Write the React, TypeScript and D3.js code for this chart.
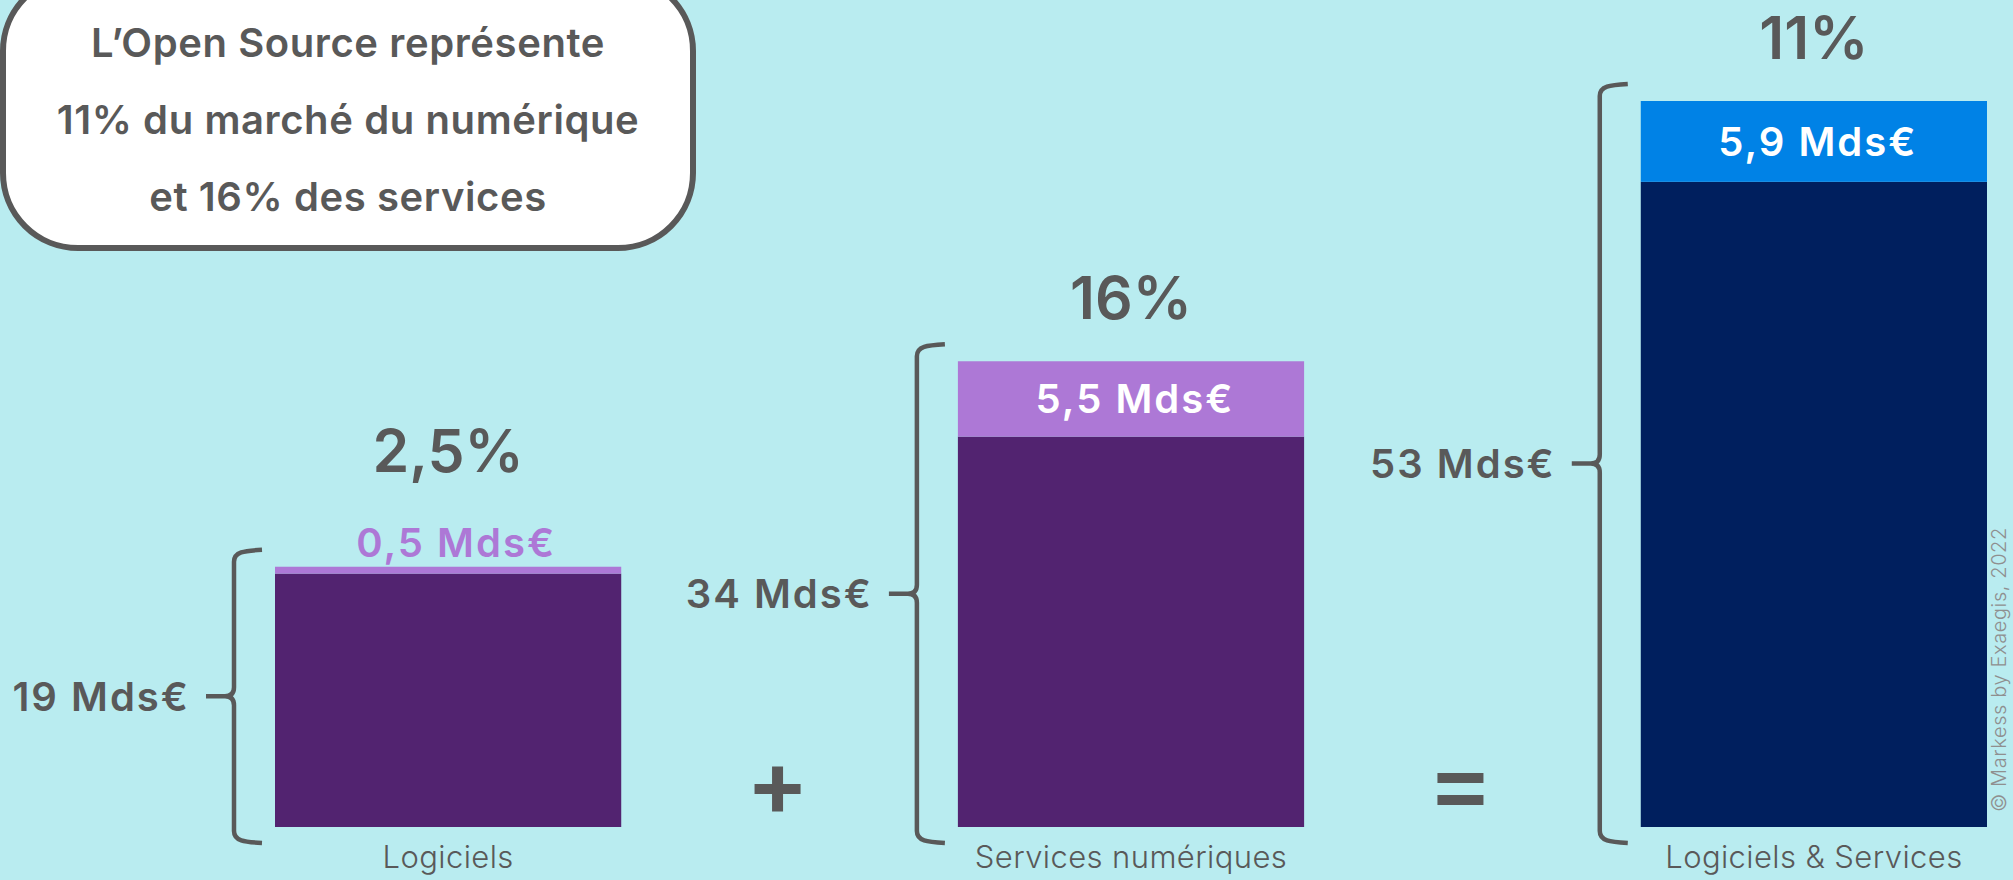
import React from "react";
import * as d3 from "d3";

const categories = ["Logiciels", "Services numériques", "Logiciels & Services"];
const totals = [19, 34, 53];
const openSource = [0.5, 5.5, 5.9];
const shareLabels = ["2,5%", "16%", "11%"];
const totalLabels = ["19 Mds€", "34 Mds€", "53 Mds€"];
const osLabels = ["0,5 Mds€", "5,5 Mds€", "5,9 Mds€"];
const baseColors = ["#522370", "#522370", "#001f5e"];
const osColors = ["#ad78d6", "#ad78d6", "#0082e6"];
const titleLines = ["L’Open Source représente", "11% du marché du numérique", "et 16% des services"];
const operators = ["+", "="];
const credit = "© Markess by Exaegis, 2022";

const W = 2013;
const H = 880;
const GRAY = "#595959";
const FONT = "Inter, 'Open Sans', sans-serif";

function bracePath(x0: number, xt: number, xc: number, t: number, b: number) {
  const m = (t + b) / 2;
  const p = d3.path();
  p.moveTo(xt, t);
  p.bezierCurveTo(x0 + 10, t + 1, x0, t + 2, x0, t + 12);
  p.lineTo(x0, m - 9);
  p.quadraticCurveTo(x0, m, x0 - 9, m);
  p.lineTo(xc, m);
  p.moveTo(x0 - 9, m);
  p.quadraticCurveTo(x0, m, x0, m + 9);
  p.lineTo(x0, b - 12);
  p.bezierCurveTo(x0, b - 2, x0 + 10, b - 1, xt, b);
  return p.toString();
}

export default function App() {
  const x = d3.scaleBand<string>().domain(categories).range([275, 1987]).paddingInner(0.493).paddingOuter(0);
  const y = d3.scaleLinear().domain([0, 53]).range([827, 101]);
  const bw = x.bandwidth();

  return (
    <svg width={W} height={H} style={{ position: "absolute", left: 0, top: 0, display: "block" }} fontFamily={FONT}>
      <rect x={0} y={0} width={W} height={H} fill="#b9ecf0" />

      {/* title box */}
      <rect x={3} y={-24} width={690} height={272} rx={75} ry={75} fill="#ffffff" stroke={GRAY} strokeWidth={6} />
      {titleLines.map((t, i) => (
        <text key={t} x={348} y={57 + i * 77} textAnchor="middle" fontSize={40} fontWeight={600} fill={GRAY} letterSpacing={0.6}>
          {t}
        </text>
      ))}

      {categories.map((c, i) => {
        const x0 = x(c)!;
        const top = y(totals[i]);
        const osBottom = y(totals[i] - openSource[i]);
        const segH = osBottom - top;
        const inside = segH > 40;
        const bx = x0 - 41;
        const braceTop = top - 17;
        const braceBot = y(0) + 16;
        const mid = (braceTop + braceBot) / 2;
        const cx = x0 + bw / 2;
        return (
          <g key={c}>
            <rect x={x0} y={osBottom} width={bw} height={y(0) - osBottom} fill={baseColors[i]} />
            <rect x={x0} y={top} width={bw} height={segH} fill={osColors[i]} />
            <path d={bracePath(bx, x0 - 13, bx - 28, braceTop, braceBot)} fill="none" stroke={GRAY} strokeWidth={4.5} />
            <text x={bx - 44} y={mid} dy="0.36em" textAnchor="end" fontSize={40} fontWeight={600} fill={GRAY} letterSpacing={2}>
              {totalLabels[i]}
            </text>
            {inside ? (
              <text x={cx + 4} y={(top + osBottom) / 2} dy="0.36em" textAnchor="middle" fontSize={40} fontWeight={600} fill="#ffffff" letterSpacing={2}>
                {osLabels[i]}
              </text>
            ) : (
              <text x={cx + 8} y={top - 10} textAnchor="middle" fontSize={40} fontWeight={600} fill={osColors[i]} letterSpacing={2}>
                {osLabels[i]}
              </text>
            )}
            <text x={cx} y={inside ? top - 42 : top - 95} textAnchor="middle" fontSize={59} fontWeight={600} fill={GRAY}>
              {shareLabels[i]}
            </text>
            <text x={cx} y={868} textAnchor="middle" fontSize={31} fontWeight={300} fill={GRAY} letterSpacing={0.4}>
              {c}
            </text>
          </g>
        );
      })}

      {operators.map((op, i) => {
        const left = x(categories[i])! + bw;
        const right = x(categories[i + 1])!;
        const cx = (left + right) / 2 - 12;
        const cy = 789;
        return op === "+" ? (
          <g key={op} fill={GRAY}>
            <rect x={cx - 23} y={cy - 5} width={46} height={10} />
            <rect x={cx - 5.5} y={cy - 22.5} width={11} height={45} />
          </g>
        ) : (
          <g key={op} fill={GRAY}>
            <rect x={cx - 23} y={cy - 16} width={46} height={10} />
            <rect x={cx - 23} y={cy + 6} width={46} height={10} />
          </g>
        );
      })}

      <text transform="translate(2006,812) rotate(-90)" fontSize={20} fontWeight={300} fill="#8f8f8f" letterSpacing={0.6}>
        {credit}
      </text>
    </svg>
  );
}
